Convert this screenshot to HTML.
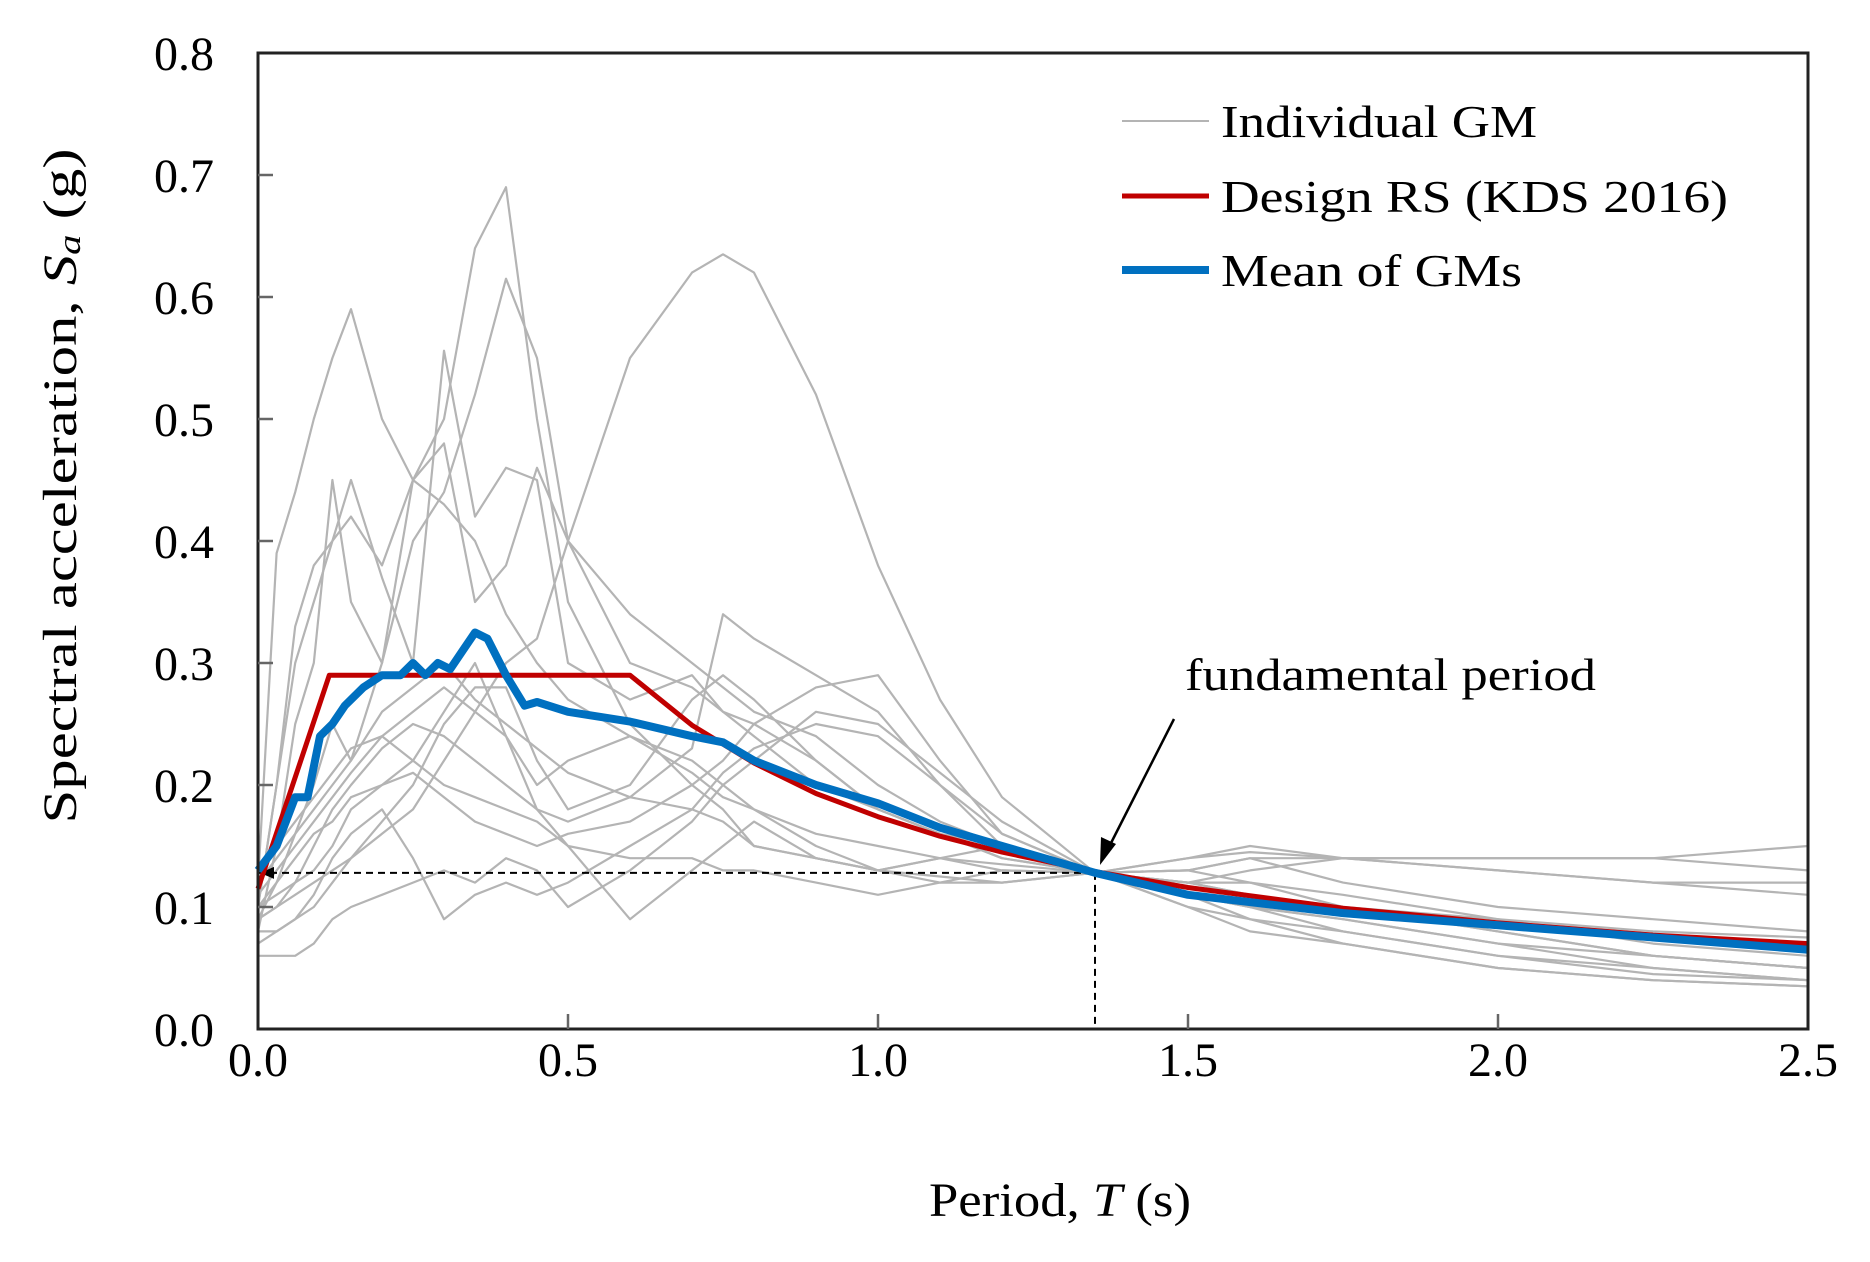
<!DOCTYPE html>
<html><head><meta charset="utf-8"><style>
html,body{margin:0;padding:0;background:#fff}
svg{display:block;font-family:"Liberation Serif",serif}
</style></head><body>
<svg id="chart" width="1870" height="1262" viewBox="0 0 1870 1262">
<g id="grays"></g>
<g id="main"></g>
<g id="axes"></g>
<text x="65" y="486" font-size="48" text-anchor="middle" textLength="675" lengthAdjust="spacingAndGlyphs" transform="rotate(-90 65 486)" dominant-baseline="middle">Spectral acceleration,  <tspan font-style="italic">S</tspan><tspan font-style="italic" font-size="32" dy="8">a</tspan><tspan dy="-8"> (g)</tspan></text>
<text x="929" y="1216" font-size="48" textLength="262" lengthAdjust="spacingAndGlyphs">Period,  <tspan font-style="italic">T</tspan> (s)</text>
<g>
<line x1="1122" y1="121" x2="1209" y2="121" stroke="#b4b4b4" stroke-width="2"/>
<text x="1221" y="137" font-size="46" textLength="316" lengthAdjust="spacingAndGlyphs">Individual GM</text>
<line x1="1122" y1="196" x2="1209" y2="196" stroke="#c00000" stroke-width="5"/>
<text x="1221" y="212" font-size="46" textLength="507" lengthAdjust="spacingAndGlyphs">Design RS (KDS 2016)</text>
<line x1="1122" y1="270" x2="1209" y2="270" stroke="#0070c0" stroke-width="8"/>
<text x="1221" y="286" font-size="46" textLength="301" lengthAdjust="spacingAndGlyphs">Mean of GMs</text>
</g>
<text x="1185" y="690" font-size="46" textLength="411" lengthAdjust="spacingAndGlyphs">fundamental  period</text>
<g>
<line x1="1174" y1="719" x2="1110" y2="845" stroke="#000" stroke-width="2.5"/>
<polygon points="1100,865 1101,837 1116,844" fill="#000"/>
</g>
</svg>
<script>
const xTicks=[0,0.5,1.0,1.5,2.0,2.5];
const yTicks=[0,0.1,0.2,0.3,0.4,0.5,0.6,0.7,0.8];
const designT=[0,0.115,0.6,0.7,0.8,0.9,1.0,1.1,1.2,1.35,1.5,1.75,2.0,2.25,2.5];
const designSa=[0.115,0.29,0.29,0.249,0.218,0.193,0.174,0.158,0.145,0.129,0.116,0.099,0.087,0.077,0.07];
const meanT=[0,0.03,0.06,0.08,0.1,0.12,0.14,0.17,0.2,0.23,0.25,0.27,0.29,0.31,0.33,0.35,0.37,0.4,0.43,0.45,0.5,0.6,0.7,0.75,0.8,0.9,1.0,1.1,1.2,1.35,1.5,1.75,2.0,2.25,2.5];
const meanSa=[0.13,0.15,0.19,0.19,0.24,0.25,0.265,0.28,0.29,0.29,0.3,0.29,0.3,0.295,0.31,0.325,0.32,0.29,0.265,0.268,0.26,0.252,0.24,0.235,0.22,0.2,0.185,0.165,0.15,0.128,0.11,0.095,0.085,0.075,0.065];
const gmT=[0,0.03,0.06,0.09,0.12,0.15,0.2,0.25,0.3,0.35,0.4,0.45,0.5,0.6,0.7,0.75,0.8,0.9,1.0,1.1,1.2,1.35,1.5,1.6,1.75,2.0,2.25,2.5];
const gm1=[0.10,0.20,0.30,0.35,0.40,0.42,0.38,0.45,0.50,0.64,0.69,0.50,0.35,0.25,0.20,0.18,0.15,0.14,0.13,0.14,0.13,0.128,0.12,0.11,0.10,0.08,0.06,0.05];
const gm2=[0.09,0.10,0.11,0.12,0.13,0.14,0.16,0.18,0.22,0.26,0.30,0.32,0.40,0.55,0.62,0.635,0.62,0.52,0.38,0.27,0.19,0.128,0.10,0.09,0.07,0.05,0.04,0.035];
const gm3=[0.12,0.39,0.44,0.50,0.55,0.59,0.50,0.45,0.43,0.40,0.34,0.30,0.27,0.24,0.22,0.20,0.18,0.16,0.15,0.14,0.135,0.128,0.14,0.145,0.14,0.14,0.14,0.15];
const gm4=[0.08,0.15,0.25,0.30,0.45,0.35,0.30,0.40,0.44,0.52,0.615,0.55,0.40,0.30,0.28,0.26,0.25,0.22,0.18,0.16,0.14,0.128,0.12,0.11,0.10,0.09,0.08,0.075];
const gm5=[0.10,0.20,0.33,0.38,0.40,0.45,0.37,0.30,0.556,0.42,0.46,0.45,0.30,0.27,0.29,0.26,0.24,0.2,0.18,0.16,0.15,0.128,0.12,0.13,0.14,0.13,0.12,0.12];
const gm6=[0.09,0.12,0.16,0.2,0.25,0.22,0.3,0.45,0.48,0.35,0.38,0.46,0.40,0.34,0.30,0.28,0.26,0.24,0.20,0.17,0.15,0.128,0.13,0.14,0.12,0.1,0.09,0.08];
const gm7=[0.06,0.06,0.06,0.07,0.09,0.10,0.11,0.12,0.13,0.12,0.14,0.13,0.10,0.13,0.17,0.20,0.22,0.26,0.25,0.21,0.17,0.128,0.11,0.10,0.09,0.07,0.05,0.04];
const gm8=[0.08,0.08,0.09,0.10,0.12,0.14,0.17,0.20,0.25,0.28,0.28,0.22,0.18,0.20,0.27,0.29,0.27,0.22,0.18,0.16,0.14,0.128,0.11,0.10,0.08,0.06,0.045,0.04];
const gm9=[0.12,0.14,0.16,0.18,0.2,0.22,0.26,0.28,0.30,0.27,0.25,0.23,0.21,0.19,0.18,0.17,0.15,0.14,0.13,0.125,0.12,0.128,0.14,0.15,0.14,0.13,0.12,0.11];
const gm10=[0.10,0.11,0.12,0.13,0.15,0.18,0.20,0.22,0.26,0.30,0.24,0.18,0.15,0.09,0.13,0.15,0.17,0.14,0.13,0.14,0.15,0.128,0.11,0.09,0.08,0.06,0.05,0.04];
const gm11=[0.07,0.08,0.09,0.11,0.14,0.16,0.18,0.14,0.09,0.11,0.12,0.11,0.12,0.15,0.18,0.21,0.23,0.25,0.24,0.20,0.16,0.128,0.12,0.12,0.11,0.09,0.07,0.06];
const gm12=[0.11,0.13,0.15,0.17,0.19,0.21,0.24,0.26,0.28,0.26,0.24,0.20,0.22,0.24,0.21,0.19,0.18,0.15,0.13,0.12,0.12,0.128,0.13,0.12,0.10,0.08,0.06,0.05];
const gm13=[0.09,0.10,0.12,0.15,0.18,0.20,0.23,0.25,0.24,0.22,0.20,0.18,0.17,0.19,0.23,0.34,0.32,0.29,0.26,0.20,0.15,0.128,0.11,0.10,0.09,0.07,0.06,0.05];
const gm14=[0.10,0.12,0.14,0.16,0.17,0.19,0.20,0.21,0.19,0.17,0.16,0.15,0.16,0.17,0.20,0.22,0.25,0.28,0.29,0.22,0.16,0.128,0.13,0.14,0.14,0.14,0.14,0.13];
const gm15=[0.13,0.15,0.17,0.19,0.21,0.23,0.24,0.22,0.20,0.19,0.18,0.17,0.15,0.14,0.14,0.13,0.13,0.12,0.11,0.12,0.13,0.128,0.10,0.08,0.07,0.05,0.04,0.035];
const gms=[gm1,gm2,gm3,gm4,gm5,gm6,gm7,gm8,gm9,gm10,gm11,gm12,gm13,gm14,gm15];
const fundT=1.35, fundSa=0.128;

const L=258,R=1808,T=53,B=1029;
const xs=v=>L+(v/2.5)*(R-L);
const ys=v=>B-(v/0.8)*(B-T);
const NS='http://www.w3.org/2000/svg';
function mk(tag,attrs,parent){const e=document.createElementNS(NS,tag);for(const k in attrs)e.setAttribute(k,attrs[k]);parent.appendChild(e);return e;}
function pts(tx,ty){return tx.map((t,i)=>xs(t).toFixed(1)+','+ys(ty[i]).toFixed(1)).join(' ');}

const grays=document.getElementById('grays');
gms.forEach((g,i)=>{
  const p=mk('polyline',{points:pts(gmT,g),fill:'none',stroke:'#b4b4b4','stroke-width':2.2,'stroke-linejoin':'round'},grays);
  
  
});
const main=document.getElementById('main');
const h=mk('polyline',{points:xs(0)+','+ys(fundSa)+' '+xs(fundT)+','+ys(fundSa),fill:'none',stroke:'#000','stroke-width':2,'stroke-dasharray':'7,5'},main);


const v=mk('polyline',{points:xs(fundT)+','+ys(fundSa)+' '+xs(fundT)+','+ys(0),fill:'none',stroke:'#000','stroke-width':2,'stroke-dasharray':'7,5'},main);


const ah=mk('polygon',{points:(xs(0)+2)+','+ys(fundSa)+' '+(xs(0)+16)+','+(ys(fundSa)-6)+' '+(xs(0)+16)+','+(ys(fundSa)+6),fill:'#000'},main);


const d=mk('polyline',{points:pts(designT,designSa),fill:'none',stroke:'#c00000','stroke-width':5,'stroke-linejoin':'round'},main);


const m=mk('polyline',{points:pts(meanT,meanSa),fill:'none',stroke:'#0070c0','stroke-width':8,'stroke-linejoin':'round'},main);



const axes=document.getElementById('axes');
const fr=mk('rect',{x:L,y:T,width:R-L,height:B-T,fill:'none',stroke:'#222','stroke-width':3},axes);


yTicks.forEach(t=>{
  const y=ys(t);
  if(t>0&&t<0.8){const tk=mk('line',{x1:L,y1:y,x2:L+15,y2:y,stroke:'#666','stroke-width':2.5},axes);
  
  }
  const tx=mk('text',{x:214,y:y+17,'font-size':48,'text-anchor':'end'},axes);
  tx.textContent=t.toFixed(1);
  
  
});
xTicks.forEach(t=>{
  const x=xs(t);
  if(t>0&&t<2.5){const tk=mk('line',{x1:x,y1:B,x2:x,y2:B-15,stroke:'#666','stroke-width':2.5},axes);
  
  }
  const tx=mk('text',{x:x,y:1076,'font-size':48,'text-anchor':'middle'},axes);
  tx.textContent=t.toFixed(1);
  
  
});
</script>
</body></html>
